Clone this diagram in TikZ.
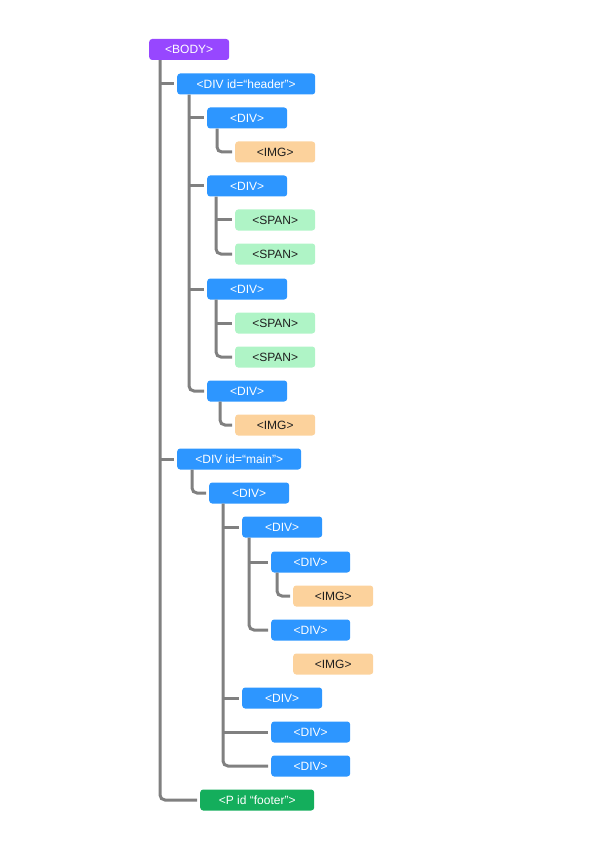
\documentclass[tikz,border=0pt]{standalone}
\usepackage{fontspec}
\setmainfont{Liberation Sans}
\usetikzlibrary{positioning}

\definecolor{tagpurple}{RGB}{151,71,255}
\definecolor{tagblue}{RGB}{45,150,255}
\definecolor{tagorange}{RGB}{252,210,156}
\definecolor{taggreen}{RGB}{175,244,198}
\definecolor{tagfoot}{RGB}{20,174,92}
\definecolor{linegray}{RGB}{128,128,128}
\definecolor{textdark}{RGB}{30,30,30}

\tikzset{
  tag/.style={anchor=west, rounded corners=3pt, minimum height=21pt, minimum width=80pt,
    inner sep=0pt, font=\fontsize{12}{14}\selectfont},
  bodytag/.style={tag, fill=tagpurple, text=white},
  divtag/.style={tag, fill=tagblue, text=white},
  imgtag/.style={tag, fill=tagorange, text=textdark},
  spantag/.style={tag, fill=taggreen, text=textdark},
  foottag/.style={tag, fill=tagfoot, text=white},
  link/.style={draw=linegray, line width=3pt, rounded corners=5pt, shorten >=3pt}
}

\begin{document}
\begin{tikzpicture}[x=1pt, y=-1pt]
  \useasboundingbox (0,0) rectangle (595,842);

  % Root
  \node[bodytag] (body) at (149,49.5) {<BODY>};

  % Header branch
  \node[divtag, minimum width=138pt] (hdr) at (177,84) {<DIV id=“header”>};
  \node[divtag] (hd1) at (207,118) {<DIV>};
  \node[imgtag] (hi1) at (235,152) {<IMG>};
  \node[divtag] (hd2) at (207,186) {<DIV>};
  \node[spantag] (hs1) at (235,220) {<SPAN>};
  \node[spantag] (hs2) at (235,254) {<SPAN>};
  \node[divtag] (hd3) at (207,289) {<DIV>};
  \node[spantag] (hs3) at (235,323) {<SPAN>};
  \node[spantag] (hs4) at (235,357) {<SPAN>};
  \node[divtag] (hd4) at (207,391) {<DIV>};
  \node[imgtag] (hi2) at (235,425) {<IMG>};

  % Main branch
  \node[divtag, minimum width=124pt] (main) at (177,459) {<DIV id=“main”>};
  \node[divtag] (md1) at (209,493) {<DIV>};
  \node[divtag] (md2) at (242,527) {<DIV>};
  \node[divtag, minimum width=79pt] (md3) at (271,562) {<DIV>};
  \node[imgtag] (mi1) at (293,596) {<IMG>};
  \node[divtag, minimum width=79pt] (md4) at (271,630) {<DIV>};
  \node[imgtag] (mi2) at (293,664) {<IMG>};
  \node[divtag] (md5) at (242,698) {<DIV>};
  \node[divtag, minimum width=79pt] (md6) at (271,732) {<DIV>};
  \node[divtag, minimum width=79pt] (md7) at (271,766) {<DIV>};

  % Footer
  \node[foottag, minimum width=114pt] (foot) at (200,800) {<P id “footer”>};

  % Trunk tops
  \coordinate (tbody) at ([xshift=11pt]body.south west);
  \coordinate (thdr) at ([xshift=12pt]hdr.south west);
  \coordinate (thd1) at ([xshift=10pt]hd1.south west);
  \coordinate (thd2) at ([xshift=9pt]hd2.south west);
  \coordinate (thd3) at ([xshift=9pt]hd3.south west);
  \coordinate (thd4) at ([xshift=13pt]hd4.south west);
  \coordinate (tmain) at ([xshift=15pt]main.south west);
  \coordinate (tmd1) at ([xshift=14pt]md1.south west);
  \coordinate (tmd2) at ([xshift=7pt]md2.south west);
  \coordinate (tmd3) at ([xshift=6pt]md3.south west);

  % Trunks ending in a corner
  \draw[link] (tbody) |- (foot.west);
  \draw[link] (thdr) |- (hd4.west);
  \draw[link] (thd1) |- (hi1.west);
  \draw[link] (thd2) |- (hs2.west);
  \draw[link] (thd3) |- (hs4.west);
  \draw[link] (thd4) |- (hi2.west);
  \draw[link] (tmain) |- (md1.west);
  \draw[link] (tmd1) |- (md7.west);
  \draw[link] (tmd2) |- (md4.west);
  \draw[link] (tmd3) |- (mi1.west);

  % Side branches
  \foreach \n in {hdr,main} \draw[link] (tbody |- \n.west) -- (\n.west);
  \foreach \n in {hd1,hd2,hd3} \draw[link] (thdr |- \n.west) -- (\n.west);
  \draw[link] (thd2 |- hs1.west) -- (hs1.west);
  \draw[link] (thd3 |- hs3.west) -- (hs3.west);
  \foreach \n in {md2,md5,md6} \draw[link] (tmd1 |- \n.west) -- (\n.west);
  \draw[link] (tmd2 |- md3.west) -- (md3.west);
\end{tikzpicture}
\end{document}
